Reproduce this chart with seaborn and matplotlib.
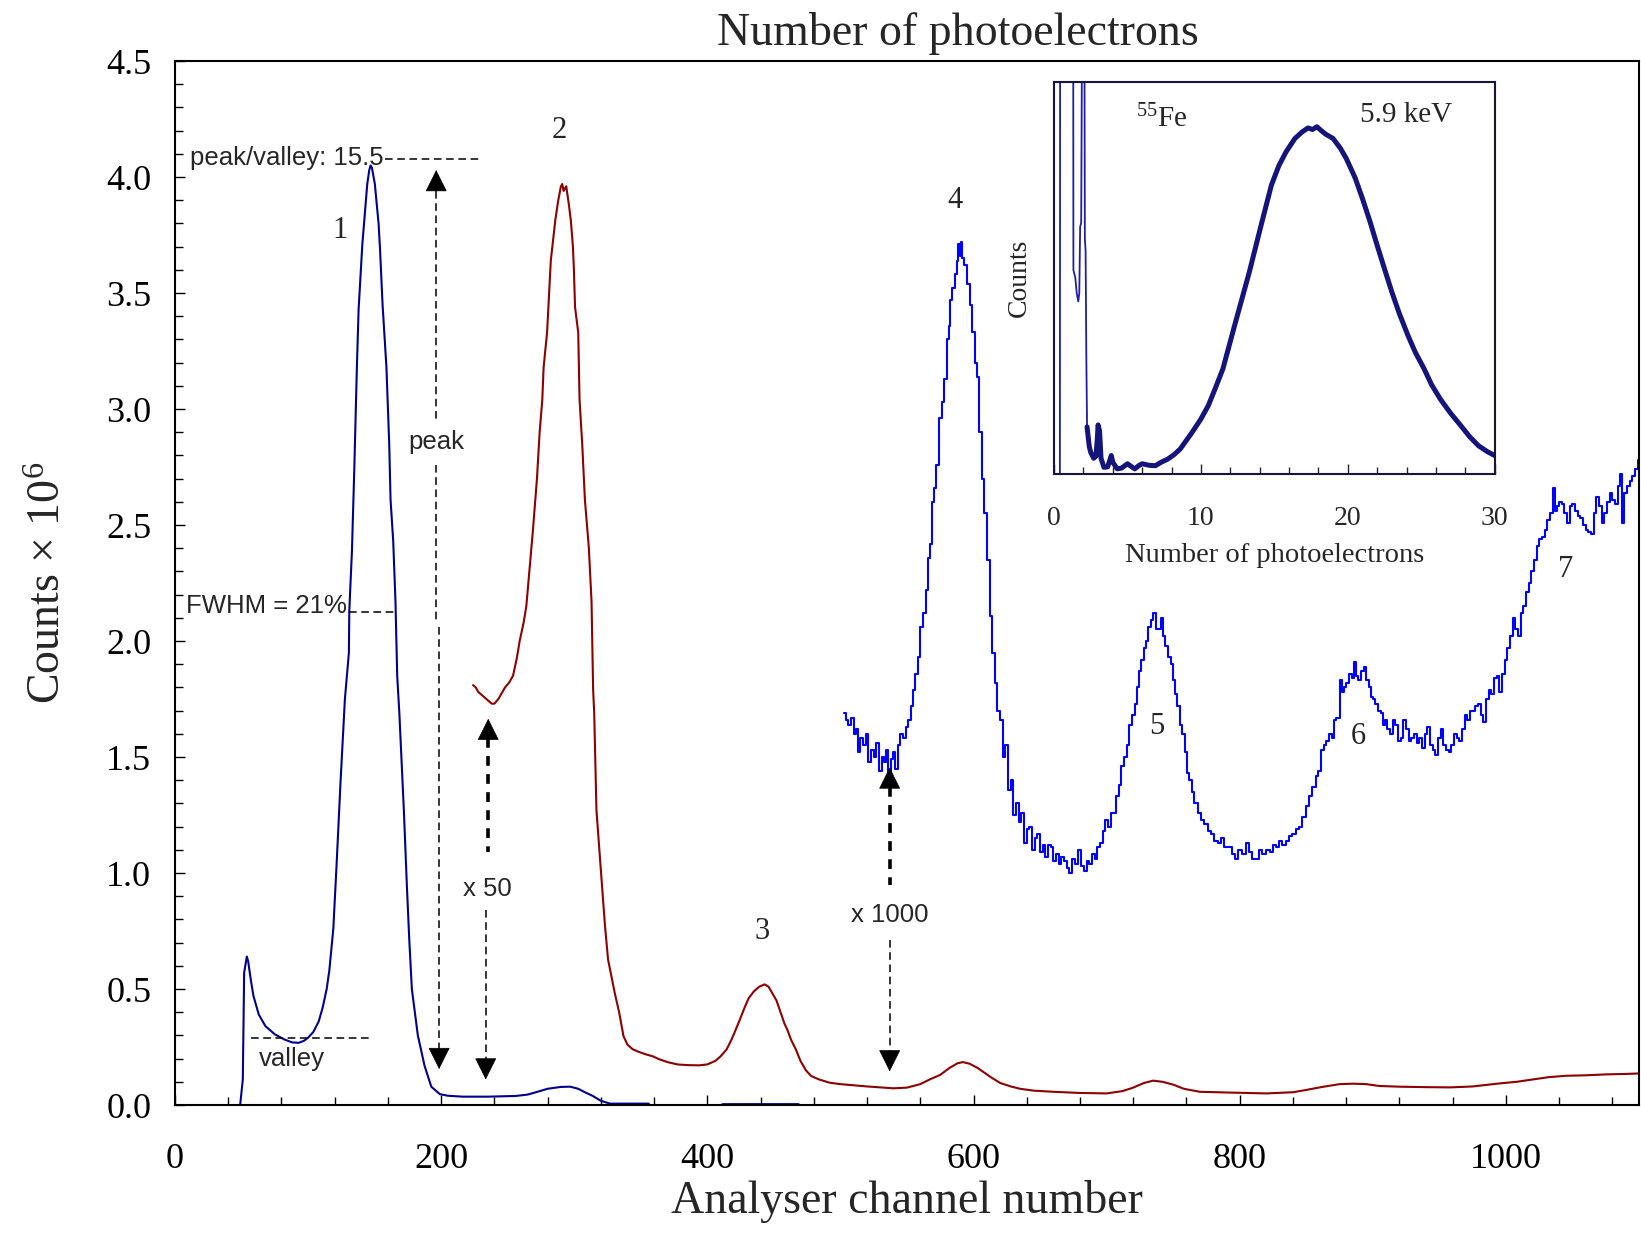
import matplotlib
matplotlib.use("Agg")
import matplotlib.pyplot as plt
import seaborn as sns
from matplotlib.ticker import MultipleLocator

# ---------------- data ----------------
# Series 1 (navy): raw spectrum
s1_x = [49, 51, 52, 54, 55, 57, 59, 63, 68, 75,
        82, 88, 93, 97, 100, 104, 108, 111, 114, 116,
        119, 121.4, 124.4, 127.7, 130.7, 131, 133, 134.8, 136.7, 138,
        140.8, 144.5, 146, 147, 148, 150.2, 153, 154, 156, 158.9,
        161, 162, 164, 165.7, 167, 168.6, 172, 174.3, 176, 178,
        182.5, 187.6, 192.6, 199, 205, 216, 235, 256, 265, 270,
        280, 290, 297, 303, 308, 314, 320, 327, 356]
s1_y = [0.0, 0.11, 0.57, 0.64, 0.62, 0.54, 0.47, 0.39, 0.34, 0.305,
        0.283, 0.27, 0.268, 0.277, 0.29, 0.315, 0.36, 0.42, 0.50, 0.58,
        0.76, 1.03, 1.39, 1.75, 1.95, 2.13, 2.39, 2.75, 3.18, 3.43,
        3.71, 3.97, 4.03, 4.05, 4.04, 3.97, 3.80, 3.70, 3.45, 3.18,
        2.85, 2.61, 2.43, 2.17, 1.85, 1.69, 1.27, 0.94, 0.72, 0.50,
        0.30, 0.168, 0.079, 0.047, 0.04, 0.036, 0.036, 0.039, 0.045, 0.053,
        0.07, 0.078, 0.079, 0.07, 0.055, 0.039, 0.018, 0.006, 0.006]
s1b_x = [411, 468]
s1b_y = [0.004, 0.004]

# Series 2 (dark red): x 50
s2_x = [224, 226, 228, 230, 232, 234, 236, 238, 240, 243,
        246, 248, 251, 254, 257, 259, 262, 264, 266.6, 269,
        272, 274, 276, 277, 279.6, 282.4, 285.8, 288, 290, 291,
        292, 294, 296, 297.5, 299, 299.7, 300.6, 303, 304, 306,
        308, 311, 313, 314.2, 315, 316.7, 319, 321.5, 323, 325.4,
        330.4, 333.8, 337, 340, 344, 349, 354, 359, 364, 370,
        377.5, 385, 394, 400, 406, 410, 414.5, 418, 421, 424.5,
        428, 431, 435, 439, 443, 446, 449, 452, 455, 458,
        460, 463, 466.5, 470, 474, 478, 484, 492, 500, 508,
        520, 530, 540, 550, 560, 567, 575, 582, 588, 592,
        597, 603, 608, 613, 620, 628, 635, 645, 660, 680,
        700, 712, 720, 728, 735, 742, 750, 758, 770, 790,
        820, 840, 850, 862, 875, 885, 895, 905, 920, 940,
        958, 975, 995, 1008, 1020, 1032, 1045, 1060, 1075, 1090,
        1100]
s2_y = [1.81, 1.80, 1.78, 1.77, 1.76, 1.75, 1.74, 1.73, 1.73, 1.75,
        1.78, 1.80, 1.82, 1.85, 1.93, 2.00, 2.08, 2.15, 2.32, 2.48,
        2.70, 2.90, 3.04, 3.18, 3.33, 3.64, 3.815, 3.90, 3.96, 3.97,
        3.94, 3.96, 3.88, 3.81, 3.70, 3.61, 3.44, 3.33, 3.04, 2.85,
        2.61, 2.40, 2.17, 1.79, 1.69, 1.27, 1.09, 0.90, 0.78, 0.628,
        0.484, 0.398, 0.297, 0.26, 0.24, 0.228, 0.218, 0.21, 0.197, 0.185,
        0.175, 0.172, 0.171, 0.175, 0.19, 0.21, 0.24, 0.28, 0.32, 0.369,
        0.42, 0.46, 0.49, 0.51, 0.52, 0.51, 0.48, 0.45, 0.40, 0.35,
        0.326, 0.28, 0.24, 0.19, 0.15, 0.125, 0.11, 0.096, 0.09, 0.086,
        0.08, 0.076, 0.072, 0.075, 0.09, 0.11, 0.13, 0.16, 0.18, 0.185,
        0.178, 0.16, 0.14, 0.12, 0.095, 0.08, 0.07, 0.062, 0.057, 0.052,
        0.05, 0.06, 0.075, 0.095, 0.105, 0.10, 0.088, 0.07, 0.057, 0.054,
        0.05, 0.055, 0.065, 0.078, 0.09, 0.092, 0.09, 0.082, 0.079, 0.077,
        0.076, 0.08, 0.093, 0.10, 0.11, 0.12, 0.126, 0.128, 0.132, 0.134,
        0.136]

# Series 3 (blue): x 1000
s3_x = [503, 505, 507, 509, 511, 512, 514, 516, 518, 520,
        522, 524, 526, 528, 530, 532, 534, 535, 537, 539,
        540, 542, 544, 546, 548, 550, 552, 554, 555, 557,
        559, 561, 563, 565, 567, 568, 570, 571, 573, 575,
        577, 579, 581, 582, 583, 585, 587, 588, 589, 590,
        591, 592, 594, 596, 598, 600, 602, 603, 605, 607,
        609, 611, 613, 615, 617, 619, 621, 623, 625, 627,
        629, 631, 633, 635, 637, 639, 641, 643, 645, 647,
        649, 651, 653, 655, 657, 659, 661, 663, 665, 667,
        669, 671, 673, 675, 677, 680, 682, 684, 686, 688,
        690, 692, 694, 696, 698, 700, 702, 704, 706, 708,
        710, 712, 714, 716, 718, 720, 722, 724, 725, 727,
        729, 730, 732, 734, 736, 738, 740, 741, 743, 745,
        747, 749, 750, 752, 754, 756, 758, 760, 761, 763,
        765, 767, 770, 772, 775, 777, 780, 782, 785, 787,
        790, 793, 795, 798, 800, 803, 806, 808, 811, 813,
        816, 818, 821, 824, 826, 828, 831, 833, 836, 838,
        841, 843, 846, 848, 851, 853, 856, 858, 860, 862,
        864, 866, 868, 870, 871, 873, 875, 876, 878, 879,
        881, 883, 885, 886, 888, 890, 892, 894, 896, 898,
        899, 901, 903, 905, 907, 909, 910, 912, 914, 916,
        918, 920, 922, 924, 926, 928, 930, 932, 934, 936,
        938, 940, 942, 944, 946, 948, 950, 952, 954, 956,
        958, 960, 962, 964, 966, 968, 970, 972, 974, 976,
        978, 980, 982, 984, 986, 988, 990, 992, 994, 996,
        998, 1000, 1002, 1004, 1006, 1008, 1010, 1012, 1014, 1016,
        1018, 1020, 1022, 1024, 1026, 1028, 1030, 1032, 1034, 1036,
        1037, 1039, 1041, 1043, 1045, 1047, 1049, 1051, 1053, 1055,
        1057, 1059, 1061, 1063, 1065, 1067, 1069, 1071, 1073, 1075,
        1077, 1079, 1081, 1083, 1085, 1087, 1088, 1090, 1092, 1094,
        1096, 1098, 1100]
s3_y = [1.69, 1.66, 1.64, 1.67, 1.60, 1.62, 1.52, 1.58, 1.55, 1.60,
        1.48, 1.53, 1.50, 1.56, 1.44, 1.50, 1.48, 1.53, 1.42, 1.49,
        1.52, 1.45, 1.55, 1.60, 1.58, 1.63, 1.66, 1.72, 1.79, 1.86,
        1.93, 2.06, 2.12, 2.22, 2.36, 2.42, 2.60, 2.66, 2.76, 2.96,
        3.03, 3.13, 3.30, 3.36, 3.47, 3.52, 3.58, 3.64, 3.71, 3.66,
        3.72, 3.65, 3.62, 3.54, 3.45, 3.33, 3.20, 3.14, 2.90, 2.70,
        2.55, 2.35, 2.11, 1.95, 1.82, 1.70, 1.66, 1.50, 1.55, 1.36,
        1.40, 1.25, 1.30, 1.22, 1.26, 1.13, 1.19, 1.20, 1.10, 1.15,
        1.17, 1.09, 1.12, 1.07, 1.12, 1.11, 1.05, 1.08, 1.04, 1.07,
        1.05, 1.02, 1.00, 1.06, 1.04, 1.10, 1.03, 1.01, 1.05, 1.04,
        1.08, 1.06, 1.11, 1.13, 1.18, 1.23, 1.20, 1.26, 1.26, 1.33,
        1.38, 1.46, 1.50, 1.55, 1.64, 1.68, 1.73, 1.80, 1.87, 1.92,
        1.97, 2.00, 2.06, 2.09, 2.12, 2.05, 2.05, 2.10, 2.02, 1.98,
        1.93, 1.90, 1.83, 1.77, 1.72, 1.64, 1.60, 1.52, 1.43, 1.40,
        1.35, 1.30, 1.26, 1.23, 1.21, 1.18, 1.17, 1.14, 1.13, 1.15,
        1.11, 1.11, 1.08, 1.06, 1.10, 1.08, 1.13, 1.09, 1.06, 1.06,
        1.10, 1.08, 1.10, 1.09, 1.12, 1.11, 1.14, 1.12, 1.14, 1.16,
        1.17, 1.19, 1.20, 1.24, 1.29, 1.33, 1.37, 1.42, 1.44, 1.53,
        1.55, 1.57, 1.60, 1.58, 1.66, 1.67, 1.67, 1.83, 1.78, 1.80,
        1.82, 1.86, 1.84, 1.91, 1.85, 1.83, 1.87, 1.89, 1.83, 1.80,
        1.76, 1.75, 1.73, 1.70, 1.69, 1.64, 1.66, 1.62, 1.60, 1.66,
        1.64, 1.57, 1.58, 1.66, 1.62, 1.57, 1.58, 1.60, 1.56, 1.58,
        1.54, 1.60, 1.63, 1.55, 1.53, 1.51, 1.58, 1.62, 1.55, 1.53,
        1.52, 1.55, 1.60, 1.58, 1.57, 1.62, 1.68, 1.66, 1.70, 1.70,
        1.72, 1.73, 1.68, 1.65, 1.75, 1.79, 1.77, 1.84, 1.85, 1.78,
        1.86, 1.92, 1.97, 2.02, 2.10, 2.05, 2.02, 2.12, 2.15, 2.21,
        2.25, 2.30, 2.35, 2.41, 2.44, 2.45, 2.48, 2.52, 2.55, 2.66,
        2.56, 2.58, 2.60, 2.59, 2.55, 2.51, 2.58, 2.59, 2.56, 2.54,
        2.53, 2.50, 2.48, 2.47, 2.46, 2.55, 2.62, 2.58, 2.51, 2.55,
        2.60, 2.64, 2.61, 2.59, 2.67, 2.72, 2.51, 2.64, 2.67, 2.69,
        2.71, 2.74, 2.78]

# Inset: 55Fe spectrum (arbitrary counts)
inset_thin_x = [0.38, 0.40, 0.42, 0.44, 1.28, 1.30, 1.32, 1.45, 1.55, 1.65,
                1.72, 1.78, 1.85, 1.95, 2.05, 2.10, 2.15, 2.20, 2.25]
inset_thin_y = [0.0, 0.0, 1.5, 1.5, 1.5, 1.5, 0.52, 0.50, 0.46, 0.44,
                0.46, 0.63, 0.64, 1.5, 1.5, 0.60, 0.57, 0.30, 0.12]
inset_x = [2.25, 2.4, 2.5, 2.7, 2.85, 2.95, 3.0, 3.1, 3.2, 3.4,
           3.65, 3.8, 3.9, 4.0, 4.3, 4.6, 5.0, 5.3, 5.5, 5.8,
           6.0, 6.5, 6.9, 7.3, 7.75, 8.2, 8.6, 9.0, 9.4, 10.0,
           10.5, 11.0, 11.5, 12.3, 13.3, 14.1, 14.8, 15.3, 15.8, 16.4,
           16.9, 17.3, 17.6, 17.9, 18.2, 18.5, 19.0, 19.5, 19.9, 20.5,
           21.0, 21.5, 22.0, 22.5, 23.0, 23.5, 24.1, 24.6, 25.2, 25.7,
           26.3, 27.0, 27.7, 28.3, 28.9, 29.5, 30.0]
inset_y = [0.12, 0.07, 0.055, 0.04, 0.045, 0.09, 0.125, 0.11, 0.04, 0.017,
           0.018, 0.035, 0.047, 0.03, 0.013, 0.015, 0.026, 0.018, 0.013, 0.022,
           0.026, 0.022, 0.021, 0.03, 0.038, 0.05, 0.064, 0.085, 0.106, 0.14,
           0.174, 0.22, 0.268, 0.379, 0.515, 0.634, 0.736, 0.785, 0.821, 0.855,
           0.872, 0.882, 0.878, 0.885, 0.875, 0.866, 0.855, 0.83, 0.804, 0.755,
           0.702, 0.645, 0.583, 0.523, 0.464, 0.41, 0.353, 0.31, 0.268, 0.228,
           0.191, 0.155, 0.123, 0.095, 0.072, 0.057, 0.047]

peak_labels = ["1", "2", "3", "4", "5", "6", "7"]
peak_label_x = [124, 289, 441, 586, 738, 889, 1045]
peak_label_y = [3.77, 4.20, 0.75, 3.90, 1.63, 1.59, 2.31]

# ---------------- style ----------------
sns.set_style("ticks")
plt.rcParams["font.family"] = ["Liberation Serif", "DejaVu Serif"]
plt.rcParams["mathtext.fontset"] = "custom"
plt.rcParams["mathtext.rm"] = "Liberation Serif"
plt.rcParams["mathtext.it"] = "Liberation Serif:italic"
SANS = ["Liberation Sans", "DejaVu Sans"]

fig = plt.figure(figsize=(16.41, 12.33), dpi=100)
ax = fig.add_axes([0.1066, 0.1038, 0.8922, 0.8467])

C1, C2, C3 = "#00008b", "#8b0000", "#0000ff"
sns.lineplot(x=s1_x, y=s1_y, ax=ax, color=C1, lw=1.5, estimator=None, sort=False)
sns.lineplot(x=s1b_x, y=s1b_y, ax=ax, color=C1, lw=2.0, estimator=None, sort=False)
sns.lineplot(x=s2_x, y=s2_y, ax=ax, color=C2, lw=1.5, estimator=None, sort=False)
sns.lineplot(x=s3_x, y=s3_y, ax=ax, color=C3, lw=1.5, estimator=None, sort=False,
             drawstyle="steps-mid")

ax.set_xlim(0, 1100)
ax.set_ylim(0, 4.5)
ax.xaxis.set_major_locator(MultipleLocator(200))
ax.xaxis.set_minor_locator(MultipleLocator(40))
ax.yaxis.set_major_locator(MultipleLocator(0.5))
ax.yaxis.set_minor_locator(MultipleLocator(0.1))
ax.tick_params(which="both", direction="in", top=False, right=False, width=1.0,
               colors="black", labelsize=26)
ax.tick_params(which="major", length=7.5)
ax.tick_params(which="minor", length=6)
ax.tick_params(axis="x", pad=27)
ax.tick_params(axis="y", pad=17)
for sp in ax.spines.values():
    sp.set_visible(True)
    sp.set_linewidth(1.5)
    sp.set_color("black")

ax.set_xlabel("Analyser channel number", fontsize=33)
ax.set_ylabel(r"Counts $\times$ 10$^{6}$", fontsize=33)
ax.xaxis.set_label_coords(0.5, -0.072)
ax.yaxis.set_label_coords(-0.072, 0.5)

fig.text(0.5836, 0.973, "Number of photoelectrons", ha="center", va="center",
         fontsize=33)

# peak numbers
for lab, px, py in zip(peak_labels, peak_label_x, peak_label_y):
    ax.text(px, py, lab, ha="center", va="center", fontsize=22)

# ---------------- annotations ----------------
THIN = dict(color="black", lw=1.1, linestyle=(0, (5, 3)))
THICK = dict(color="black", lw=2.6, linestyle=(0, (2.7, 2.3)))


def dline(x0, y0, x1, y1, style):
    ax.plot([x0, x1], [y0, y1], solid_capstyle="butt", dash_capstyle="butt", **style)


def head(x, tip, base):
    ax.annotate("", xy=(x, tip), xytext=(x, base),
                arrowprops=dict(arrowstyle="-|>,head_length=0.9,head_width=0.45",
                                mutation_scale=16, color="black", lw=0.5,
                                shrinkA=0, shrinkB=0))


# peak/valley
ax.text(11, 4.08, "peak/valley: 15.5", ha="left", va="center", fontsize=18.5,
        family=SANS)
dline(158, 4.076, 230, 4.076, THIN)
# FWHM
ax.text(8, 2.15, "FWHM = 21%", ha="left", va="center", fontsize=18.5, family=SANS)
dline(131, 2.124, 165.3, 2.124, THIN)
# valley
ax.text(63, 0.20, "valley", ha="left", va="center", fontsize=18.5, family=SANS)
dline(57, 0.289, 149, 0.289, THIN)

# peak arrow
ax.text(196.5, 2.86, "peak", ha="center", va="center", fontsize=18.5, family=SANS)
head(196.3, 4.03, 3.94)
dline(196.3, 3.94, 196.3, 2.95, THIN)
dline(196.3, 2.76, 196.3, 2.08, THIN)
dline(198.5, 2.06, 198.5, 0.24, THIN)
head(198.5, 0.155, 0.245)

# x 50 arrows
ax.text(235, 0.93, "x 50", ha="center", va="center", fontsize=18.5, family=SANS)
head(235.4, 1.665, 1.575)
dline(235.4, 1.58, 235.4, 1.09, THICK)
dline(233.5, 0.84, 233.5, 0.19, THIN)
head(233.5, 0.11, 0.195)

# x 1000 arrows
ax.text(537, 0.82, "x 1000", ha="center", va="center", fontsize=18.5, family=SANS)
head(537, 1.455, 1.365)
dline(537, 1.37, 537, 0.95, THICK)
dline(537, 0.71, 537, 0.23, THIN)
head(537, 0.145, 0.235)

# ---------------- inset ----------------
iax = fig.add_axes([0.6423, 0.6156, 0.2685, 0.3182])
sns.lineplot(x=inset_thin_x, y=inset_thin_y, ax=iax, color="#1f1fa0", lw=1.3,
             estimator=None, sort=False)
sns.lineplot(x=inset_x, y=inset_y, ax=iax, color="#14147a", lw=3.6,
             estimator=None, sort=False)
iax.set_xlim(0, 30)
iax.set_ylim(0, 1)
iax.set_yticks([])
iax.xaxis.set_major_locator(MultipleLocator(10))
iax.xaxis.set_minor_locator(MultipleLocator(2))
iax.tick_params(which="both", direction="in", top=False, right=False, left=False,
                width=1.0, labelsize=20, pad=23)
iax.tick_params(which="major", length=7)
iax.tick_params(which="minor", length=5)
for sp in iax.spines.values():
    sp.set_visible(True)
    sp.set_linewidth(1.5)
    sp.set_color("#15153d")
iax.set_xlabel("Number of photoelectrons", fontsize=20.5)
iax.set_ylabel("Counts", fontsize=20)
iax.xaxis.set_label_coords(0.5, -0.175)
iax.yaxis.set_label_coords(-0.05, 0.5)
iax.text(0.187, 0.905, r"$^{55}$Fe", transform=iax.transAxes, ha="left",
         va="center", fontsize=21)
iax.text(0.80, 0.915, "5.9 keV", transform=iax.transAxes, ha="center",
         va="center", fontsize=21)

fig.savefig("out.png", dpi=100)
